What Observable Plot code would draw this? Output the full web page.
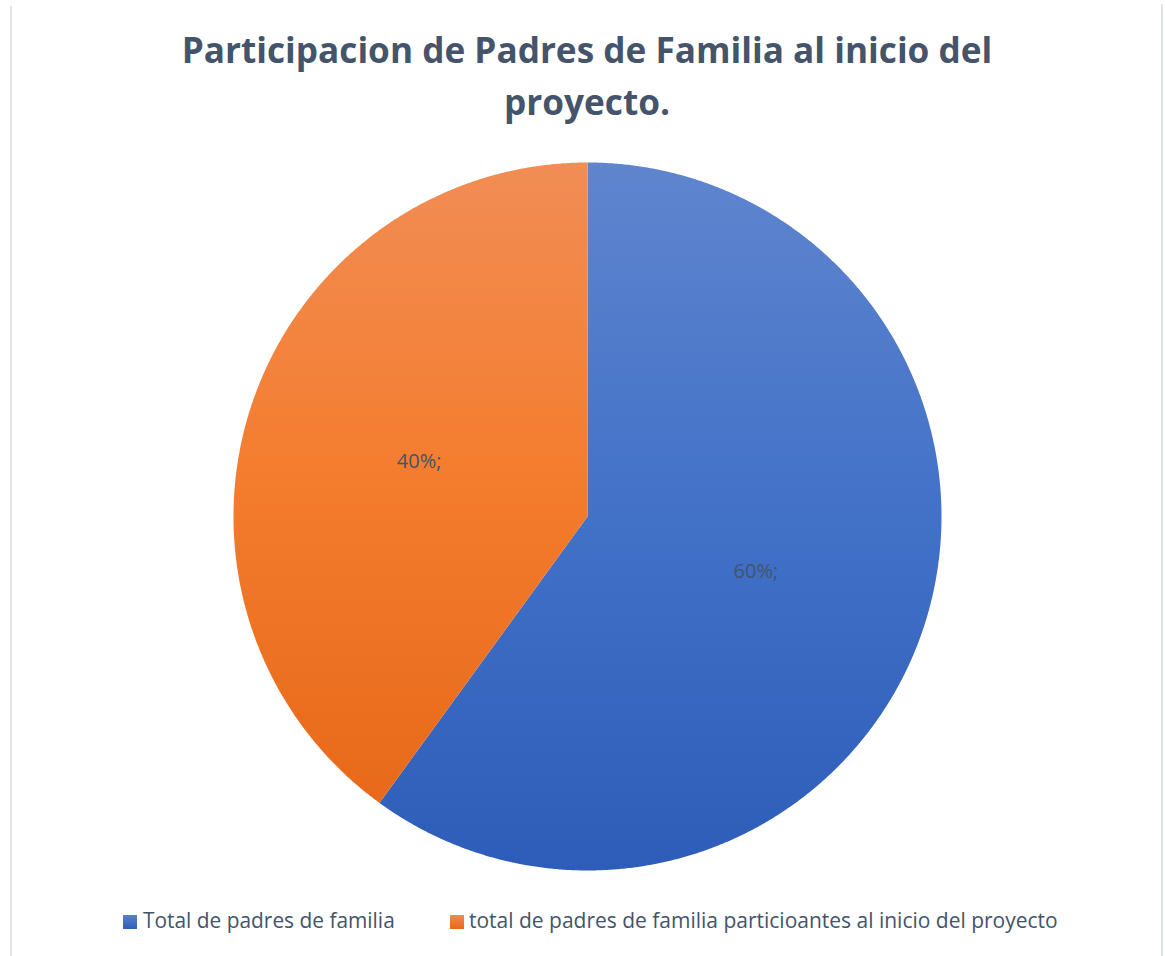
<!DOCTYPE html>
<html>
<head>
<meta charset="utf-8">
<script src="https://cdn.jsdelivr.net/npm/d3@7"></script>
<script src="https://cdn.jsdelivr.net/npm/@observablehq/plot@0.6"></script>
<style>
  html, body { margin: 0; padding: 0; background: #fff; }
  #wrap { position: relative; width: 1165px; height: 956px; background: #fff; overflow: hidden; font-family: "Open Sans", "Liberation Sans", sans-serif; }
  .vline { position: absolute; width: 2px; background: #dfe3ec; }
  .txt { position: absolute; white-space: nowrap; }
  .sw { position: absolute; width: 14px; height: 14px; }
  #chart { position: absolute; left: 0; top: 140px; }
</style>
</head>
<body>
<div id="wrap">
  <div class="vline" style="left:10px;top:6px;height:950px"></div>
  <div class="vline" style="left:1161px;top:4px;height:952px"></div>
  <div id="chart"></div>
</div>
<script>
// ---- data ----
const categories = ["Total de padres de familia", "total de padres de familia particioantes al inicio del proyecto"];
const values = [60, 40];
const sliceLabels = ["60%;", "40%;"];
const titleLines = ["Participacion de Padres de Familia al inicio del", "proyecto."];
const gradIds = ["gBlue", "gOrange"];

// ---- layout helpers ----
const wrap = document.getElementById("wrap");
const canvas = document.createElement("canvas");
const ctx = canvas.getContext("2d");
function measure(text, weight, size, family) {
  ctx.font = `${weight} ${size}px ${family}`;
  return ctx.measureText(text);
}
const FAM = '"Open Sans"';
function placeText(text, {weight = "normal", size, fit, cx, left, baseline, color}) {
  let s = size;
  if (fit) { const w = measure(text, weight, 100, FAM).width; s = 100 * fit / w; }
  const m = measure(text, weight, s, FAM);
  const A = m.fontBoundingBoxAscent, D = m.fontBoundingBoxDescent;
  const L = s * 1.3;
  const off = L / 2 + (A - D) / 2;
  const el = document.createElement("div");
  el.className = "txt";
  el.textContent = text;
  el.style.fontSize = s + "px";
  el.style.fontWeight = weight;
  el.style.lineHeight = L + "px";
  el.style.color = color;
  el.style.top = (baseline - off) + "px";
  const w = m.width;
  el.style.left = (cx != null ? cx - w / 2 : left) + "px";
  wrap.appendChild(el);
  return s;
}

// ---- title ----
const tSize = placeText(titleLines[0], {weight: "bold", fit: 811, cx: 587, baseline: 64, color: "#44546a"});
placeText(titleLines[1], {weight: "bold", size: tSize, cx: 587, baseline: 116, color: "#44546a"});

// ---- legend ----
const legendGrad = [
  "linear-gradient(#5b80cb, #2f5fb9)",
  "linear-gradient(#f08b52, #e8691a)"
];
const legendSw = [123, 450];
const legendTx = [143, 469];
const legendW = [252, 589];
categories.forEach((c, i) => {
  const sw = document.createElement("div");
  sw.className = "sw";
  sw.style.left = legendSw[i] + "px";
  sw.style.top = "915px";
  sw.style.background = legendGrad[i];
  wrap.appendChild(sw);
  placeText(c, {fit: legendW[i], left: legendTx[i], baseline: 929, color: "#44546a"});
});

// ---- pie geometry from data ----
const W = 1165, H = 750;
const CX = 587, CY = 376, R = 354;
const pie = d3.pie().sort(null).value(d => d)(values);
const slices = pie.map((p, i) => {
  const pts = [{x: 0, y: 0}];
  const n = Math.max(2, Math.ceil((p.endAngle - p.startAngle) / 0.005));
  for (let k = 0; k <= n; k++) {
    const a = p.startAngle + (p.endAngle - p.startAngle) * k / n;
    pts.push({x: Math.sin(a), y: Math.cos(a)});
  }
  pts.push({x: 0, y: 0});
  return pts;
});
const labelData = pie.map((p, i) => {
  const a = (p.startAngle + p.endAngle) / 2;
  return {x: 0.5 * Math.sin(a), y: 0.5 * Math.cos(a), label: sliceLabels[i]};
});

const plot = Plot.plot({
  width: W,
  height: H,
  margin: 0,
  style: {background: "transparent", overflow: "visible"},
  x: {domain: [-CX / R, (W - CX) / R], axis: null},
  y: {domain: [-(H - CY) / R, CY / R], axis: null},
  marks: [
    ...slices.map((pts, i) => Plot.line(pts, {x: "x", y: "y", fill: `url(#${gradIds[i]})`, stroke: "none", curve: "linear"})),
    Plot.text(labelData, {x: "x", y: "y", text: "label", fill: "#44546a", fontSize: 20, fontFamily: FAM, textAnchor: "middle", lineAnchor: "middle"})
  ]
});

const ns = "http://www.w3.org/2000/svg";
const defs = document.createElementNS(ns, "defs");
defs.innerHTML = `
  <linearGradient id="gBlue" x1="0" y1="0" x2="0" y2="1">
    <stop offset="0" stop-color="#5f85ce"/>
    <stop offset="0.5" stop-color="#4271c8"/>
    <stop offset="1" stop-color="#2e5db9"/>
  </linearGradient>
  <linearGradient id="gOrange" x1="0" y1="0" x2="0" y2="1">
    <stop offset="0" stop-color="#f18d55"/>
    <stop offset="0.5" stop-color="#f47c2d"/>
    <stop offset="1" stop-color="#e8691a"/>
  </linearGradient>`;
plot.insertBefore(defs, plot.firstChild);
document.getElementById("chart").appendChild(plot);
</script>
</body>
</html>
